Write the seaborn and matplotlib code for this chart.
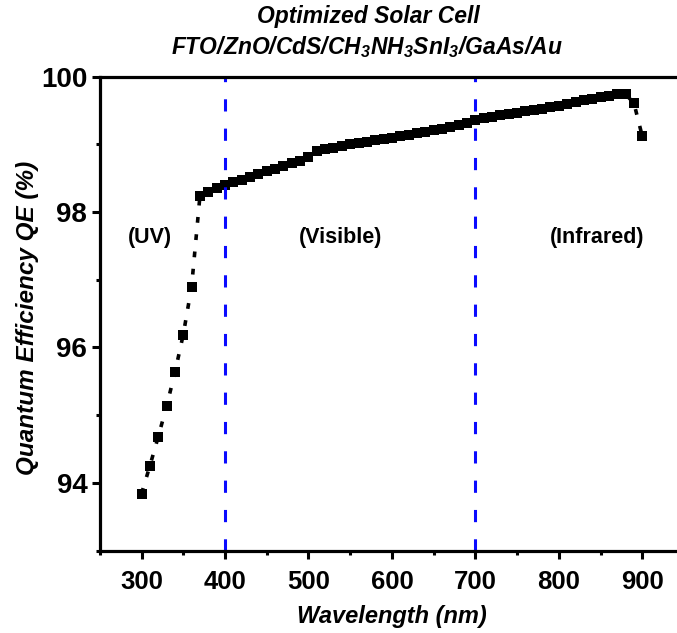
import matplotlib
matplotlib.use("Agg")
import matplotlib.pyplot as plt
import seaborn as sns
import pandas as pd

wavelength = list(range(300, 910, 10))
qe = [93.84, 94.25, 94.68, 95.13, 95.63, 96.19, 96.90, 98.24, 98.30, 98.35,
      98.40, 98.44, 98.48, 98.52, 98.56, 98.60, 98.64, 98.68, 98.72, 98.76,
      98.81, 98.90, 98.93, 98.95, 98.98, 99.00, 99.02, 99.04, 99.06, 99.08,
      99.10, 99.12, 99.14, 99.17, 99.19, 99.21, 99.23, 99.26, 99.29, 99.32,
      99.36, 99.39, 99.41, 99.43, 99.45, 99.47, 99.49, 99.51, 99.53, 99.55,
      99.57, 99.60, 99.62, 99.65, 99.67, 99.70, 99.72, 99.74, 99.74, 99.61,
      99.12]
region_x = [400, 700]
region_labels = ["(UV)", "(Visible)", "(Infrared)"]
region_label_x = [310, 539, 846]
region_label_y = [97.62, 97.62, 97.62]
x_ticks = [300, 400, 500, 600, 700, 800, 900]
y_ticks = [94, 96, 98, 100]

sns.set_theme(style="white")
FONT = "Liberation Sans"
plt.rcParams["font.family"] = [FONT, "DejaVu Sans"]
plt.rcParams["text.color"] = "black"
plt.rcParams["axes.labelcolor"] = "black"
plt.rcParams["xtick.color"] = "black"
plt.rcParams["ytick.color"] = "black"
plt.rcParams["mathtext.fontset"] = "custom"
plt.rcParams["mathtext.rm"] = f"{FONT}:bold:italic"
plt.rcParams["mathtext.it"] = f"{FONT}:bold:italic"
plt.rcParams["mathtext.bf"] = f"{FONT}:bold:italic"

df = pd.DataFrame({"Wavelength": wavelength, "QE": qe})

fig = plt.figure(figsize=(6.77, 6.33), dpi=100)
ax = fig.add_axes([99.8 / 677, 1 - 550.5 / 633, (684 - 99.8) / 677, (550.5 - 76.7) / 633])

sns.lineplot(data=df, x="Wavelength", y="QE", ax=ax, color="black",
             linewidth=2.6, marker="s", markersize=7.2, markeredgewidth=0,
             markerfacecolor="black", sort=False, errorbar=None)
line = ax.lines[-1]
line.set_dashes((1.6, 3.2))

for xv in region_x:
    ax.axvline(xv, color="#0a0aff", linewidth=2.2, dashes=(4, 5.6))

for lab, lx, ly in zip(region_labels, region_label_x, region_label_y):
    ax.text(lx, ly, lab, ha="center", va="center", fontsize=15.5,
            fontweight="bold", color="black")

ax.set_xlim(250, 950)
ax.set_ylim(93, 100)
ax.set_xticks(x_ticks)
ax.set_xticks([250 + 50 * i for i in range(15)], minor=True)
ax.set_yticks(y_ticks)
ax.set_yticks([93, 95, 97, 99], minor=True)
ax.set_xticklabels([str(v) for v in x_ticks], fontsize=18.5, fontweight="bold")
ax.set_yticklabels([str(v) for v in y_ticks], fontsize=20, fontweight="bold")

for side in ["left", "bottom", "top"]:
    ax.spines[side].set_visible(True)
    ax.spines[side].set_linewidth(2.3)
    ax.spines[side].set_color("black")
ax.spines["right"].set_visible(False)

ax.tick_params(axis="both", which="major", direction="out", length=6,
               width=2.2, color="black", bottom=True, left=True)
ax.tick_params(axis="both", which="minor", direction="out", length=3,
               width=2.2, color="black", bottom=True, left=True)
ax.tick_params(axis="x", which="major", pad=8)
ax.tick_params(axis="y", which="major", pad=3)
ax.grid(False)

ax.set_xlabel("Wavelength (nm)", fontsize=17, fontweight="bold",
              fontstyle="italic")
ax.xaxis.set_label_coords(0.5, -(617 - 550.5) / (550.5 - 76.7))
ax.xaxis.label.set_va("center")
ax.set_ylabel("Quantum Efficiency QE (%)", fontsize=17.5, fontweight="bold",
              fontstyle="italic")
ax.yaxis.set_label_coords(-(99.8 - 27) / (684 - 99.8), (550.5 - 318) / (550.5 - 76.7))
ax.yaxis.label.set_va("center")

fig.text(368 / 677, 1 - 17 / 633, "Optimized Solar Cell", ha="center",
         va="center", fontsize=16.5, fontweight="bold", fontstyle="italic")
fig.text(367 / 677, 1 - 47 / 633,
         r"FTO/ZnO/CdS/CH$_3$NH$_3$SnI$_3$/GaAs/Au", ha="center",
         va="center", fontsize=16.5, fontweight="bold", fontstyle="italic")

fig.savefig("out.png", dpi=100)
